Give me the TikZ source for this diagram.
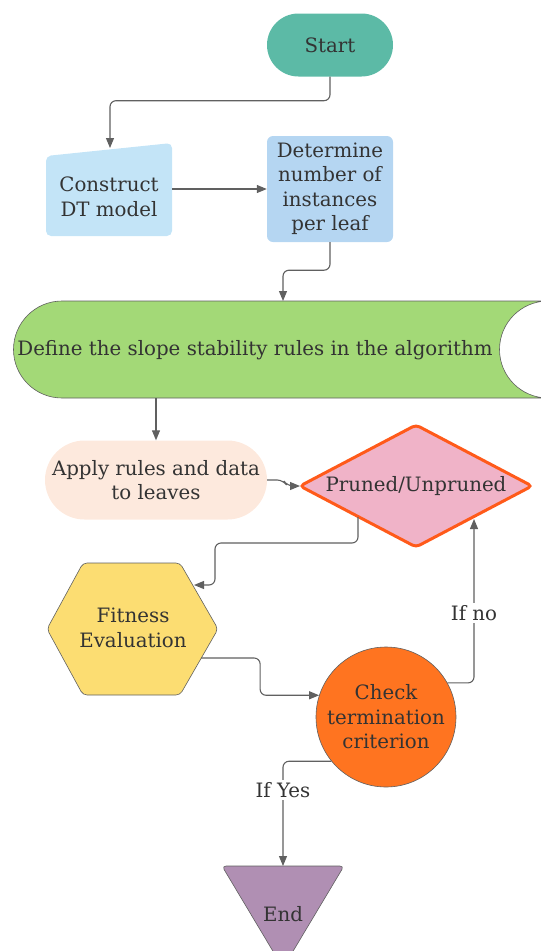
\documentclass[tikz,border=0pt]{standalone}
\usepackage{fontspec}
\setmainfont{DejaVu Serif}
\usetikzlibrary{arrows.meta,calc}
\definecolor{txt}{HTML}{333333}
\definecolor{ln}{HTML}{606060}
\definecolor{cstart}{HTML}{5CBAA6}
\definecolor{cconstruct}{HTML}{C3E4F7}
\definecolor{cdet}{HTML}{B5D6F2}
\definecolor{cgreen}{HTML}{A3D977}
\definecolor{capply}{HTML}{FDE9DD}
\definecolor{cdiam}{HTML}{F0B3C8}
\definecolor{cdiamb}{HTML}{FF5A1A}
\definecolor{chex}{HTML}{FCDD72}
\definecolor{ccirc}{HTML}{FF7420}
\definecolor{cend}{HTML}{B08FB3}
\begin{document}
\begin{tikzpicture}[x=1pt,y=-1pt,
  every node/.style={font=\fontsize{19.8}{24.5}\selectfont, text=txt, align=center},
  conn/.style={draw=ln, line width=1.1pt, rounded corners=6pt, -{Triangle[length=10pt,width=8pt]}},
  lbl/.style={fill=white, inner sep=2pt},
  txtnode/.style={inner sep=0pt},
  outl/.style={draw=ln, line width=0.6pt}]
\useasboundingbox (0,0) rectangle (541,951);
\clip (0,0) rectangle (541,951);

% Start
\node[fill=cstart, rounded corners=31.5pt, minimum width=126pt, minimum height=63pt] (start) at (330,45) {Start};

% Construct DT model (manual input)
\fill[cconstruct, rounded corners=5pt] (46,156) -- (172,143) -- (172,236) -- (46,236) -- cycle;
\node[txtnode] (construct) at (109,197) {Construct\\DT model};
\coordinate (conin) at (110,148);
\coordinate (conout) at (172,189);

% Determine
\node[fill=cdet, rounded corners=6pt, minimum width=126pt, minimum height=106pt, inner sep=0pt] (det) at (330,189) {Determine\\number of\\instances\\per leaf};

% Define rules (green)
\path[fill=cgreen, outl] (62,301) -- (548,301) arc[start angle=90, end angle=270, radius=48.5pt]
  -- (62,398) arc[start angle=270, end angle=90, radius=48.5pt] -- cycle;
\node[txtnode] (define) at (255,350) {Define the slope stability rules in the algorithm};
\coordinate (dtop) at (283,301);
\coordinate (dbot) at (156,398);

% Apply rules
\node[fill=capply, rounded corners=39.5pt, minimum width=222pt, minimum height=79pt, inner sep=0pt] (apply) at (156,480) {Apply rules and data\\to leaves};

% Diamond
\path[fill=cdiam, draw=cdiamb, line width=3pt, rounded corners=4pt] (300,486) -- (416,425) -- (532,486) -- (416,547) -- cycle;
\node[txtnode] (prune) at (416,486) {Pruned/Unpruned};
\coordinate (dleft) at (300,486);
\coordinate (dbl) at (358,517);
\coordinate (dbr) at (474,519);

% Hexagon
\path[fill=chex, outl, rounded corners=4pt] (83,563) -- (180,563) -- (218,629) -- (180,695) -- (83,695) -- (47,629) -- cycle;
\node[txtnode] (fit) at (133,628) {Fitness\\Evaluation};
\coordinate (hexin) at (194,585);
\coordinate (hexout) at (201,658);

% Check circle
\node[circle, fill=ccirc, outl, minimum size=140pt, inner sep=0pt] (check) at (386,717) {Check\\termination\\criterion};

% End triangle
\path[fill=cend, outl, rounded corners=4pt] (222,866) -- (344,866) -- (283,968) -- cycle;
\node[txtnode] (endn) at (283,914) {End};
\coordinate (endtop) at (283,866);

% Connectors
\draw[conn] (start.south) -- ++(0,24) -| (conin);
\draw[conn] (conout) -- (det.west);
\draw[conn] (det.south) -- ++(0,28) -| (dtop);
\draw[conn] (dbot) -- (apply.north);
\draw[conn] (apply.east) -- ++(16,0) -- ++(4,6) -- (dleft);
\draw[conn] (dbl) -- ++(0,26) -| ([xshift=21pt]hexin) -- (hexin);
\draw[conn] (hexout) -| ([xshift=-59pt]check.162) -- (check.162);
\draw[conn] (check.29) -| (dbr);
\node[lbl] at (474,613) {If no};
\draw[conn] (check.219) -| (endtop);
\node[lbl] at (283,790) {If Yes};
\end{tikzpicture}
\end{document}
